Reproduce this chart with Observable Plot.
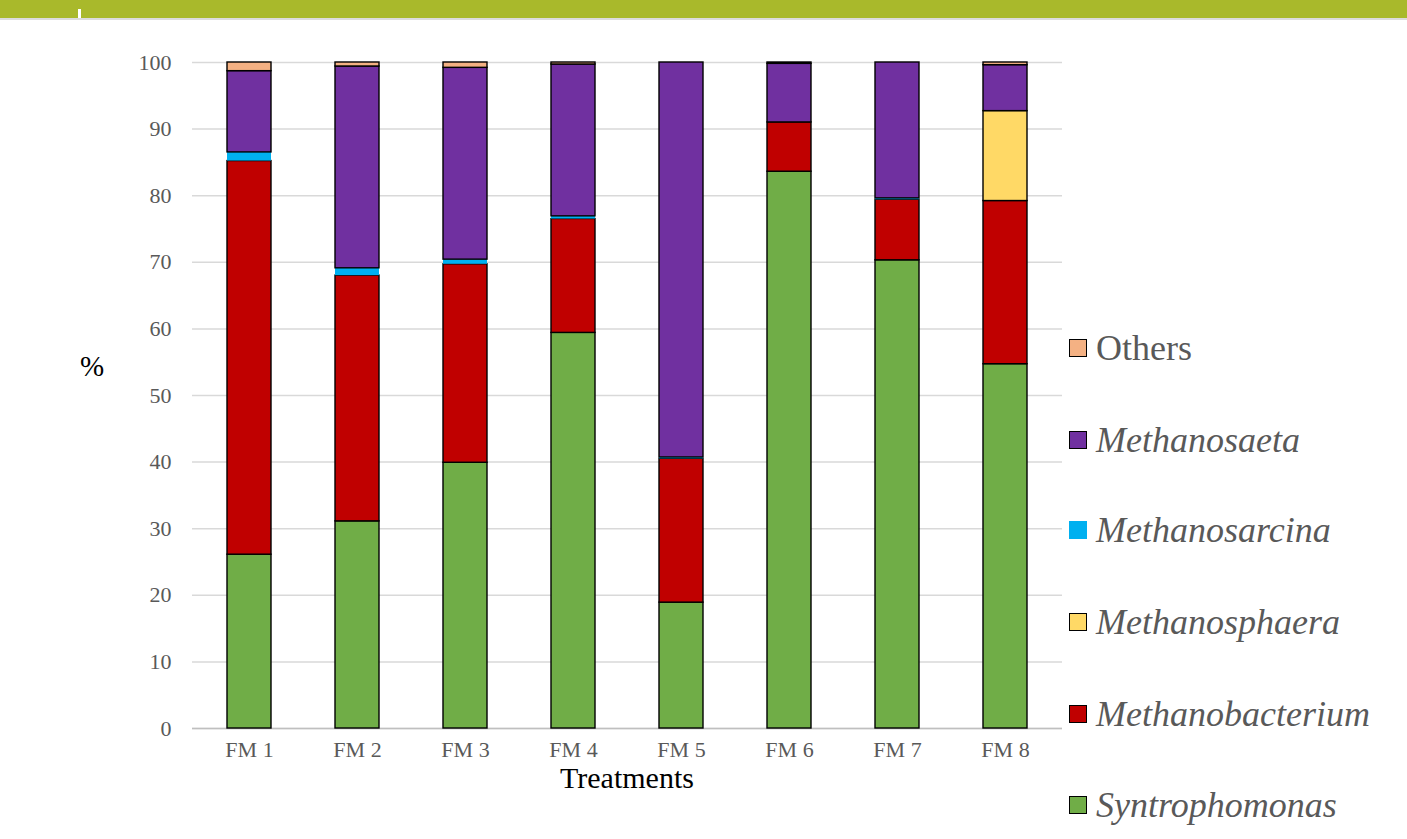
<!DOCTYPE html>
<html>
<head>
<meta charset="utf-8">
<script src="https://cdn.jsdelivr.net/npm/d3@7"></script>
<script src="https://cdn.jsdelivr.net/npm/@observablehq/plot@0.6"></script>
<style>
  html, body { margin: 0; padding: 0; background: #fff; }
  #wrap { position: relative; width: 1407px; height: 839px; overflow: hidden; font-family: "Liberation Serif", "Times New Roman", serif; }
  #band { position: absolute; left: 0; top: 0; width: 1407px; height: 18px; background: #a9b92b; border-bottom: 2.5px solid #dcdcdc; z-index: 2; }
  #band .tick { position: absolute; left: 78px; top: 9px; width: 2.5px; height: 9px; background: #fff; }
  #chart { position: absolute; left: 0; top: 0; }
  .ylab { position: absolute; left: 80px; top: 352px; font-size: 29px; color: #000; line-height: 1; }
  .xlab { position: absolute; left: 527px; width: 200px; text-align: center; top: 763px; font-size: 30px; color: #000; line-height: 1; }
  #legend { position: absolute; left: 1069px; top: 0; }
  #legend .item { position: absolute; left: 0; display: flex; align-items: center; white-space: nowrap; transform: translateY(-50%); }
  #legend .sw { width: 16px; height: 16px; box-sizing: content-box; border: 1.6px solid #000; margin-right: 9px; }
  #legend .sw.noborder { border-color: transparent; }
  #legend .lbl { font-size: 36px; color: #595959; line-height: 1; }
  #legend .lbl.it { font-style: italic; }
</style>
</head>
<body>
<div id="wrap">
  <div id="chart"></div>
  <div id="band"><div class="tick"></div></div>
  <div class="ylab">%</div>
  <div class="xlab">Treatments</div>
  <div id="legend"></div>
</div>
<script>
// Relative abundance (%) of methanogens and syntrophs per treatment
const treatments = ["FM 1", "FM 2", "FM 3", "FM 4", "FM 5", "FM 6", "FM 7", "FM 8"];
const genera = ["Syntrophomonas", "Methanobacterium", "Methanosphaera", "Methanosarcina", "Methanosaeta", "Others"];
const colors = ["#70ad47", "#c00000", "#ffd966", "#00b0f0", "#7030a0", "#f4b183"];

const syntrophomonas   = [26.1, 31.1, 39.9, 59.4, 18.9, 83.6, 70.3, 54.7];
const methanobacterium = [59.1, 36.9, 29.8, 17.1, 21.6,  7.4,  9.1, 24.5];
const methanosphaera   = [ 0,    0,    0,    0,    0,    0,    0,   13.5];
const methanosarcina   = [ 1.3,  1.1,  0.7,  0.4,  0.2,  0,    0.2,  0  ];
const methanosaeta     = [12.2, 30.3, 28.8, 22.8, 59.3,  8.8, 20.4,  6.9];
const others           = [ 1.3,  0.6,  0.8,  0.3,  0,    0.2,  0,    0.4];

const yTicks = [0, 10, 20, 30, 40, 50, 60, 70, 80, 90, 100];

const series = [syntrophomonas, methanobacterium, methanosphaera, methanosarcina, methanosaeta, others];
// long table: one row per treatment × genus, skipping empty segments
const rows = [];
treatments.forEach((t, i) => {
  genera.forEach((g, j) => {
    const v = series[j][i];
    if (v > 0) rows.push({treatment: t, genus: g, value: v, outlined: g === "Methanosarcina" ? 0 : 1});
  });
});

const chart = Plot.plot({
  width: 1407,
  height: 839,
  marginTop: 62,
  marginBottom: 111,
  marginLeft: 192,
  marginRight: 345,
  style: {fontFamily: "'Liberation Serif', 'Times New Roman', serif", background: "transparent"},
  x: {domain: treatments, paddingInner: 0.595, paddingOuter: 0.2975, label: null},
  y: {domain: [0, 100], label: null},
  color: {domain: genera, range: colors},
  opacity: {type: "identity"},
  marks: [
    Plot.gridY(yTicks, {stroke: "#d9d9d9", strokeOpacity: 1, strokeWidth: 1.5}),
    Plot.ruleY([0], {stroke: "#bfbfbf", strokeWidth: 1.5}),
    Plot.barY(rows, {
      x: "treatment",
      y: "value",
      fill: "genus",
      order: genera,
      stroke: "#000",
      strokeWidth: 1.4,
      strokeOpacity: "outlined"
    }),
    Plot.axisY(yTicks, {tickSize: 0, tickPadding: 21, fontSize: 22, fill: "#595959", label: null}),
    Plot.axisX({tickSize: 0, tickPadding: 13, fontSize: 22, fill: "#595959", label: null})
  ]
});
document.getElementById("chart").appendChild(chart);

// legend, top entry first
const legendY = [348, 440, 530, 622, 714, 805];
const legend = document.getElementById("legend");
[...genera].reverse().forEach((g, k) => {
  const idx = genera.indexOf(g);
  const item = document.createElement("div");
  item.className = "item";
  item.style.top = legendY[k] + "px";
  const sw = document.createElement("div");
  sw.className = "sw" + (g === "Methanosarcina" ? " noborder" : "");
  sw.style.background = colors[idx];
  const lbl = document.createElement("span");
  lbl.className = "lbl" + (g === "Others" ? "" : " it");
  lbl.textContent = g;
  item.appendChild(sw);
  item.appendChild(lbl);
  legend.appendChild(item);
});
</script>
</body>
</html>
